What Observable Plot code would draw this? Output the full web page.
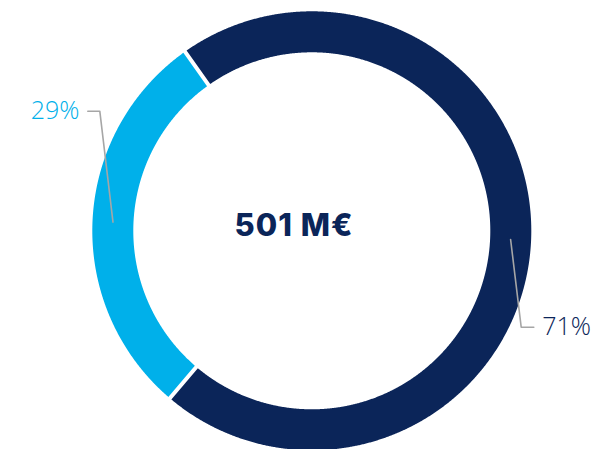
<!DOCTYPE html>
<html>
<head>
<meta charset="utf-8">
<script src="https://cdn.jsdelivr.net/npm/d3@7"></script>
<script src="https://cdn.jsdelivr.net/npm/@observablehq/plot@0.6"></script>
<style>
  html, body { margin: 0; padding: 0; background: #ffffff; }
  #chart svg { display: block; }
</style>
</head>
<body>
<div id="chart"></div>
<script>
// ---- data ----
const categories = ["Part A", "Part B"];
const shares = [71, 29];
const shareLabels = ["71%", "29%"];
const totalLabel = "501 M€";

// ---- styles / layout ----
const colors = ["#0b2559", "#00b0ea"];
const labelColors = ["#0b2559", "#00b0ea"];
const R0 = 178.5, R1 = 219.5, halfGap = 2;
const startAngle = -35.3 * Math.PI / 180;
const labelLayout = [
  {elbow: [209.4, -96.4], end: [222, -96.4], text: [230.4, -96.4], anchor: "start"},
  {elbow: [-212, 119.6], end: [-224, 119.6], text: [-232.3, 119.6], anchor: "end"}
];

const arcs = d3.pie().sort(null).startAngle(startAngle).endAngle(startAngle + 2 * Math.PI)(shares);

const ringPts = [];
arcs.forEach((p, i) => {
  const oo = Math.asin(halfGap / R1), io = Math.asin(halfGap / R0);
  const a0 = p.startAngle + oo, a1 = p.endAngle - oo;
  const n = Math.ceil((a1 - a0) / 0.004);
  for (let k = 0; k <= n; k++) {
    const a = a0 + (a1 - a0) * k / n;
    ringPts.push({cat: categories[i], x: R1 * Math.sin(a), y: R1 * Math.cos(a)});
  }
  const b0 = p.startAngle + io, b1 = p.endAngle - io;
  const m = Math.ceil((b1 - b0) / 0.004);
  for (let k = m; k >= 0; k--) {
    const a = b0 + (b1 - b0) * k / m;
    ringPts.push({cat: categories[i], x: R0 * Math.sin(a), y: R0 * Math.cos(a)});
  }
});

const leaderPts = [];
const labelData = [];
arcs.forEach((p, i) => {
  const mid = (p.startAngle + p.endAngle) / 2, rm = (R0 + R1) / 2;
  const L = labelLayout[i];
  leaderPts.push({cat: categories[i], x: rm * Math.sin(mid), y: rm * Math.cos(mid)});
  leaderPts.push({cat: categories[i], x: L.elbow[0], y: L.elbow[1]});
  leaderPts.push({cat: categories[i], x: L.end[0], y: L.end[1]});
  labelData.push({cat: categories[i], label: shareLabels[i], x: L.text[0], y: L.text[1], anchor: L.anchor, color: labelColors[i]});
});

const cx = 311.3, cy = 230.3;
const W = 592, H = 449;

const chart = Plot.plot({
  width: W, height: H,
  margin: 0,
  x: {domain: [-cx, W - cx], range: [0, W], axis: null},
  y: {domain: [cy - H, cy], range: [H, 0], axis: null},
  color: {domain: categories, range: colors},
  marks: [
    Plot.line(ringPts, {x: "x", y: "y", z: "cat", fill: "cat", stroke: "none", curve: "linear"}),
    Plot.line(leaderPts, {x: "x", y: "y", z: "cat", stroke: "#a6a6a6", strokeWidth: 1.6}),
    Plot.text(labelData.filter(d => d.anchor === "start"), {x: "x", y: "y", text: "label", textAnchor: "start", fill: d => d.color, fontSize: 25, fontWeight: 300, fontFamily: "Open Sans, Lato, sans-serif"}),
    Plot.text(labelData.filter(d => d.anchor === "end"), {x: "x", y: "y", text: "label", textAnchor: "end", fill: d => d.color, fontSize: 25, fontWeight: 300, fontFamily: "Open Sans, Lato, sans-serif"}),
    Plot.text([totalLabel], {x: () => -17.8, y: () => 4.3, text: d => d, fill: colors[0], fontSize: 31, fontWeight: 800, fontFamily: "Inter, Open Sans, sans-serif"})
  ]
});
d3.select(chart).selectAll("text").each(function () {
  const t = d3.select(this);
  if (t.text() === totalLabel) t.style("letter-spacing", "1px");
});
document.getElementById("chart").appendChild(chart);
</script>
</body>
</html>
